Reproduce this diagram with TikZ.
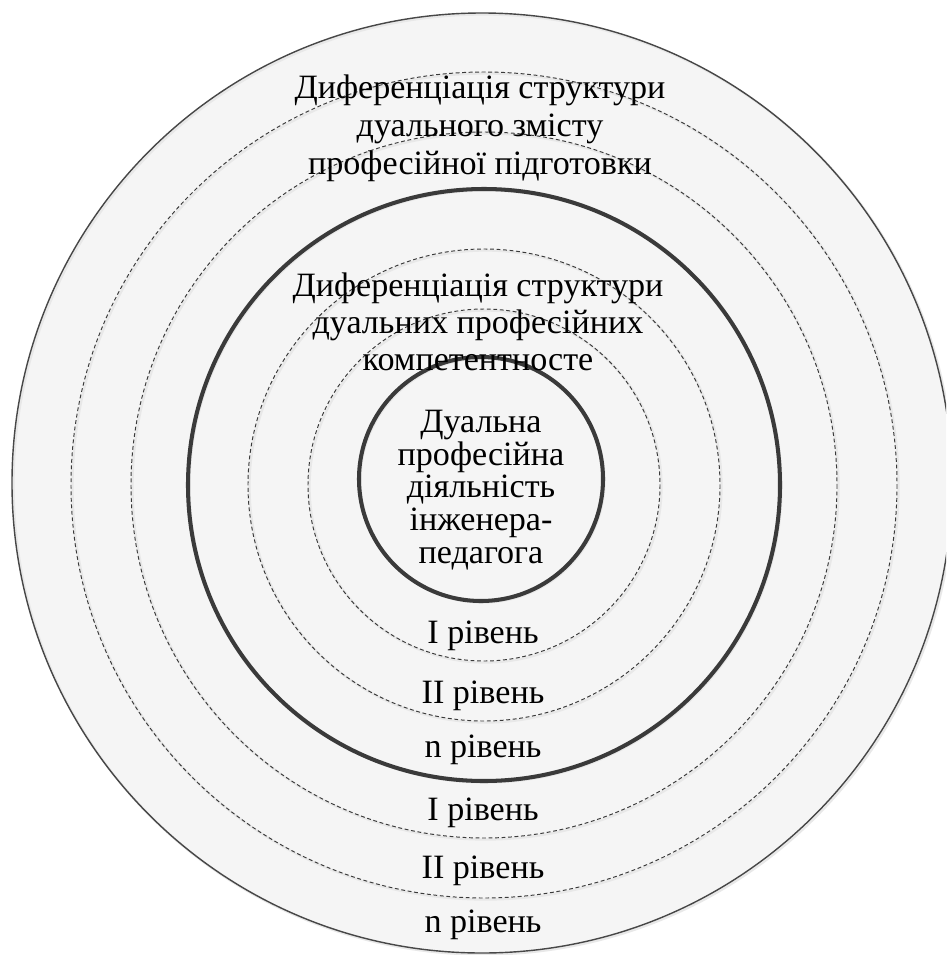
\documentclass[tikz,border=0pt]{standalone}
\usepackage{fontspec}
\setmainfont{Liberation Serif}[Script=Cyrillic]
\newfontfamily\ringfont{Liberation Serif}[Script=Cyrillic]
\usetikzlibrary{positioning}
\definecolor{ringGray}{RGB}{58,58,58}
\definecolor{fillGray}{RGB}{245,245,245}
\colorlet{haloGray}{black!9}

\begin{document}
\begin{tikzpicture}[x=0.2mm,y=-0.2mm,
    lvl/.style={font=\ringfont\fontsize{19.4}{21.6}\selectfont,anchor=base},
    blk/.style={font=\ringfont\fontsize{19.4}{21.6}\selectfont,align=center},
    dashring/.style={ringGray,dash pattern=on 2.2pt off 1.5pt,line width=0.55pt},
    boldring/.style={ringGray,line width=2.3pt},
    halo/.style={haloGray,line width=1.3pt}]
  \useasboundingbox (0,0) rectangle (946,955);
  \clip (0,0) rectangle (946,955);
  \fill[white] (0,0) rectangle (946,955);
  % outer disc
  \fill[fillGray] (482,483) circle (470);
  \draw[halo] (483.5,484.5) circle (470);
  \draw[black!72,line width=0.8pt] (482,483) circle (470);
  % rings, outside in
  \foreach \r in {413,353,236,176}{
    \draw[halo] (485.5,486.5) circle (\r);
    \draw[dashring] (484,485) circle (\r);
  }
  \draw[halo] (485.5,486.5) circle (296);
  \draw[boldring] (484,485) circle (296);
  % core
  \draw[halo] (482.5,480.5) circle (122);
  \draw[boldring] (481,479) circle (122);

  \node[blk] (content) at (480,128)
    {Диференціація структури\\дуального змісту\\професійної підготовки};
  \node[blk,font=\ringfont\fontsize{19.4}{21}\selectfont] (compet) at (478,322)
    {Диференціація структури\\дуальних професійних\\компетентносте};
  \node[blk,font=\ringfont\fontsize{19.4}{18.6}\selectfont] (core) at (481,490)
    {Дуальна\\професійна\\діяльність\\інженера-\\педагога};

  \node[lvl] (lvlA1) at (483,643) {I рівень};
  \node[lvl] (lvlA2) at (483,703) {II рівень};
  \node[lvl] (lvlAn) at (483,757) {n рівень};
  \node[lvl] (lvlB1) at (483,820) {I рівень};
  \node[lvl] (lvlB2) at (483,878) {II рівень};
  \node[lvl] (lvlBn) at (483,932) {n рівень};
\end{tikzpicture}
\end{document}
